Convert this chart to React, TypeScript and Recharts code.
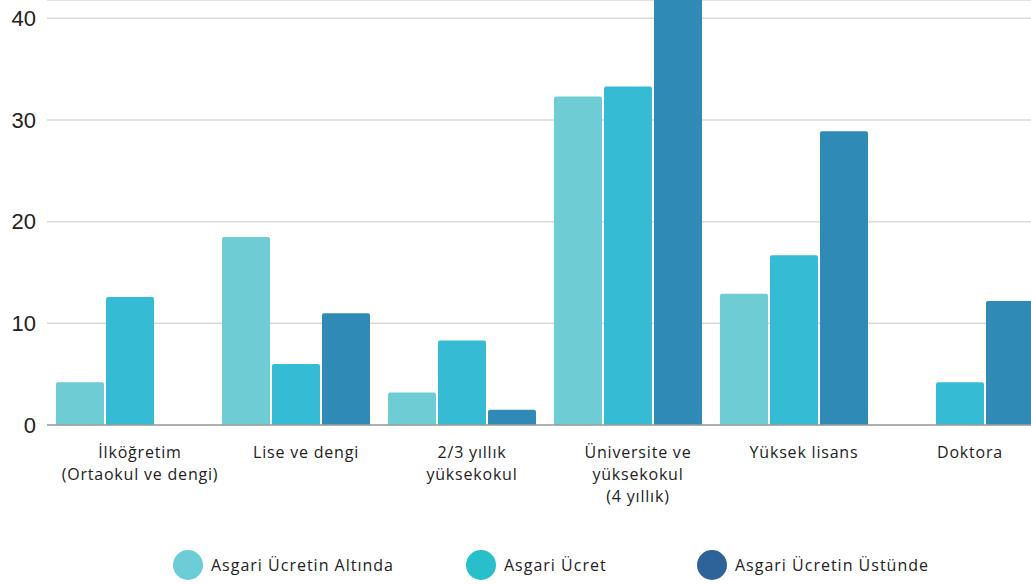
import { BarChart, Bar, XAxis, YAxis, CartesianGrid, Legend } from "recharts";

const categories = [
  "İlköğretim\n(Ortaokul ve dengi)",
  "Lise ve dengi",
  "2/3 yıllık\nyüksekokul",
  "Üniversite ve\nyüksekokul\n(4 yıllık)",
  "Yüksek lisans",
  "Doktora",
];
const belowMin = [4.2, 18.5, 3.2, 32.3, 12.9, null];
const atMin = [12.6, 6.0, 8.3, 33.3, 16.7, 4.2];
const aboveMin = [null, 11.0, 1.5, 45, 28.9, 12.2];
const yTicks = [0, 10, 20, 30, 40];

const seriesNames = ["Asgari Ücretin Altında", "Asgari Ücret", "Asgari Ücretin Üstünde"];
const barColors = ["#6ecdd4", "#35bbd3", "#2f8ab5"];
const legendColors = ["#6ccdd6", "#27bfc9", "#2d6399"];

const data = categories.map((name, i) => ({
  name,
  below: belowMin[i],
  at: atMin[i],
  above: aboveMin[i],
}));

const FONT = "'Open Sans', sans-serif";

function CategoryTick(props: any) {
  const { x, y, payload } = props;
  const lines = String(payload.value).split("\n");
  return (
    <text
      x={x + 10}
      y={y + 25}
      textAnchor="middle"
      fill="#222"
      fontSize={16}
      fontWeight={500}
      fontFamily={FONT}
      letterSpacing={0.8}
    >
      {lines.map((l, i) => (
        <tspan key={i} x={x + 10} dy={i === 0 ? 0 : 22}>
          {l}
        </tspan>
      ))}
    </text>
  );
}

// legend items sit at fixed spots under the chart, like the original
const legendLefts = [173, 466, 697];

function LegendRow() {
  return (
    <div style={{ position: "relative", width: 1031, height: 40 }}>
      {seriesNames.map((n, i) => (
        <div
          key={n}
          style={{
            position: "absolute",
            left: legendLefts[i],
            top: 5,
            display: "flex",
            alignItems: "center",
            fontFamily: FONT,
            fontSize: 16,
            fontWeight: 500,
            letterSpacing: 1,
            color: "#222",
          }}
        >
          <span
            style={{
              width: 30,
              height: 30,
              borderRadius: 15,
              background: legendColors[i],
              marginRight: 8,
              display: "inline-block",
            }}
          />
          {n}
        </div>
      ))}
    </div>
  );
}

export default function App() {
  return (
    <div
      style={{
        position: "absolute",
        left: 0,
        top: 0,
        width: 1031,
        height: 584,
        overflow: "hidden",
        background: "#fff",
      }}
    >
      <BarChart
        width={1043}
        height={545}
        data={data}
        margin={{ top: 0, right: 0, bottom: 0, left: 0 }}
        barSize={48}
        barGap={2}
      >
        <CartesianGrid vertical={false} stroke="#d9d9d9" strokeWidth={1.5} />
        <XAxis
          dataKey="name"
          height={120}
          interval={0}
          tickLine={false}
          axisLine={{ stroke: "#9e9e9e", strokeWidth: 1.5 }}
          tick={<CategoryTick />}
        />
        <YAxis
          width={47}
          domain={[0, 41.8]}
          allowDataOverflow
          ticks={yTicks}
          axisLine={false}
          tickLine={false}
          tickSize={0}
          tickMargin={11}
          tick={{ fill: "#222", fontSize: 22, fontFamily: "'Liberation Sans', Arial, sans-serif" }}
        />
        <Bar dataKey="below" name={seriesNames[0]} fill={barColors[0]} radius={[2, 2, 0, 0]} isAnimationActive={false} />
        <Bar dataKey="at" name={seriesNames[1]} fill={barColors[1]} radius={[2, 2, 0, 0]} isAnimationActive={false} />
        <Bar dataKey="above" name={seriesNames[2]} fill={barColors[2]} radius={[2, 2, 0, 0]} isAnimationActive={false} />
        <Legend content={() => null} />
      </BarChart>
      <LegendRow />
    </div>
  );
}
